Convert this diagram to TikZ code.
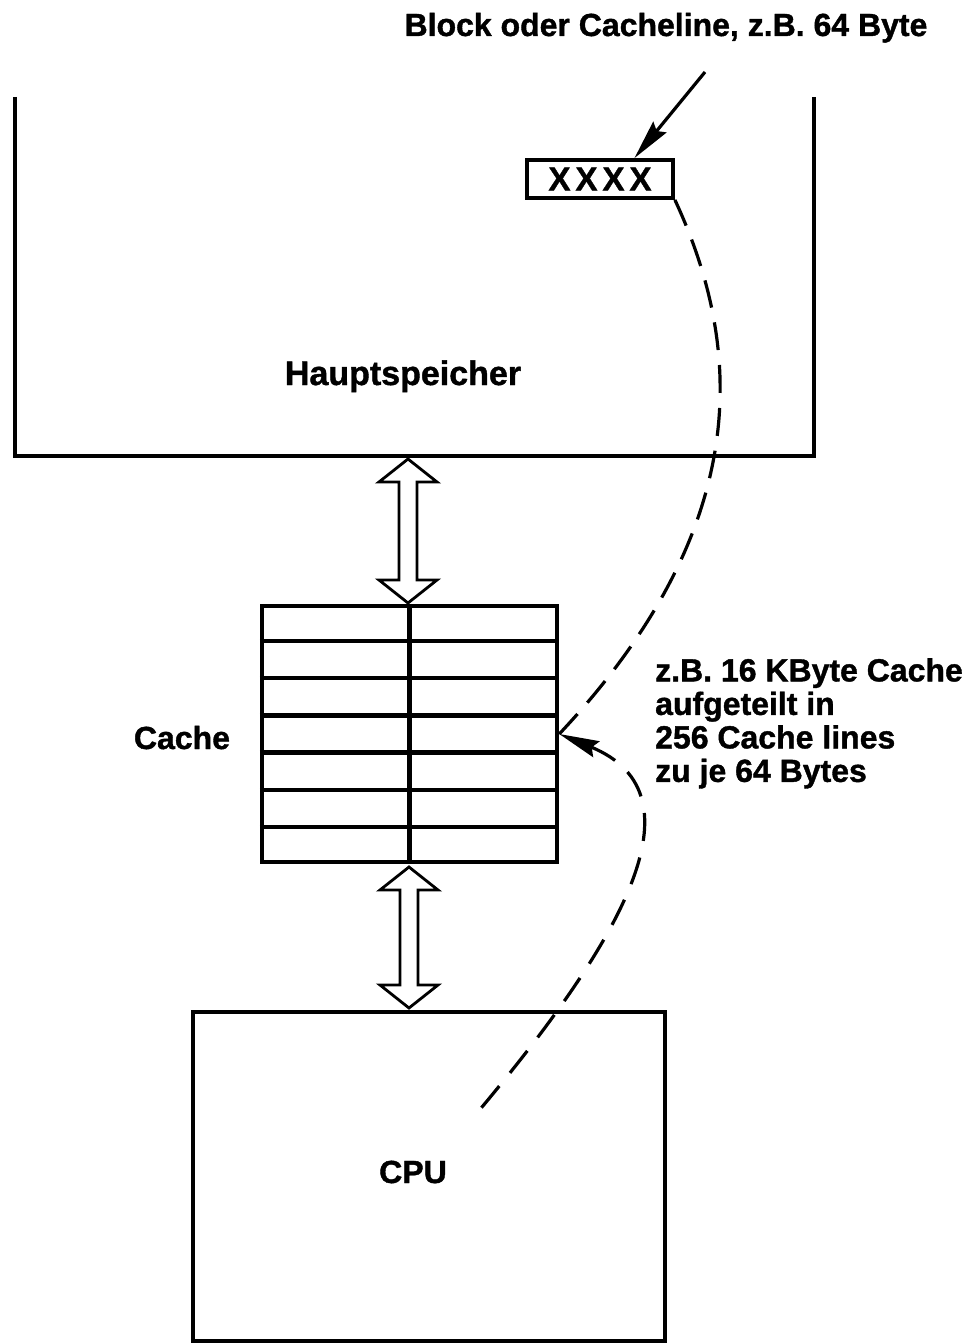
\documentclass[tikz,border=0pt]{standalone}
\usepackage{fontspec}
\setmainfont{Liberation Sans}[BoldFeatures={FakeBold=1.2}]
\usetikzlibrary{arrows.meta,calc}
\tikzset{hd/.tip={Stealth[length=40pt,width=17pt,inset=5pt]}}
\begin{document}
\begin{tikzpicture}[x=1pt,y=-1pt,
  wall/.style={line width=3.8pt},
  lbl/.style={font=\bfseries\fontsize{32}{33.5}\selectfont, inner sep=0pt},
  fat/.style={line width=2.8pt, fill=white, line join=miter},
  dsh/.style={line width=3.2pt, dash pattern=on 28pt off 15pt},
  ptr/.style={line width=3.2pt}
]
\useasboundingbox (0,0) rectangle (974,1343);

% main memory (open at the top)
\coordinate (memTL) at (15,97);
\coordinate (memBL) at (15,456);
\coordinate (memBR) at (814,456);
\coordinate (memTR) at (814,97);
\draw[wall, line join=miter] (memTL) -- (memBL) -- (memBR) -- (memTR);
\node[lbl, font=\bfseries\fontsize{34}{36}\selectfont, anchor=base] (haupt) at (403,385) {Hauptspeicher};

% block / cache line
\node[draw, line width=3.8pt, minimum width=146, minimum height=38, inner sep=0pt,
      font=\bfseries\fontsize{33}{33}\selectfont] (blk) at (600,179) {X\hspace{5pt}X\hspace{5pt}X\hspace{5pt}X};
\node[lbl, anchor=base] (blklbl) at (666,36) {Block oder Cacheline, z.B. 64 Byte};
\coordinate (ptrstart) at (705,72);
\coordinate (ptrend) at ($(blk.north west)!0.73!(blk.north east)$);
\draw[ptr, -{hd}] (ptrstart) -- (ptrend);

% cache
\node[draw, line width=4.5pt, minimum width=295, minimum height=256, inner sep=0pt] (cache) at (409.5,734) {};
\foreach \i in {1,...,6}
  \draw[line width=4.5pt] ($(cache.north west)!{\i/7}!(cache.south west)$) -- ($(cache.north east)!{\i/7}!(cache.south east)$);
\draw[line width=4.5pt] (cache.north) -- (cache.south);
\node[lbl, anchor=base] (cachelbl) at (182,749) {Cache};
\node[lbl, anchor=north west, align=left] (cachetxt) at (655,658)
  {z.B. 16 KByte Cache\\aufgeteilt in\\256 Cache lines\\zu je 64 Bytes};

% CPU
\node[draw, line width=3.8pt, minimum width=472, minimum height=329, inner sep=0pt] (cpu) at (429,1176.5) {};
\node[lbl, anchor=base] (cpulbl) at (413,1183) {CPU};

% fat double arrows
\newcommand\fatarrow[2]{%
  \draw[fat] (#1) -- ++(29,23) -- ++(-20,0) -- ($(#2)+(9,-23)$) -- ++(20,0) -- (#2)
    -- ++(-29,-23) -- ++(20,0) -- ($(#1)+(-9,23)$) -- ++(-20,0) -- cycle;}
\coordinate (u1) at (408,459);
\coordinate (d1) at (408,603);
\coordinate (u2) at (409,867);
\coordinate (d2) at (409,1008);
\fatarrow{u1}{d1}
\fatarrow{u2}{d2}

% dashed connections
\draw[dsh] (blk.south east) .. controls (740,340) and (760,520) .. (cache.east);
\coordinate (cpuA) at (477,1113);
\draw[dsh, dash pattern=on 28pt off 17pt, {hd}-] (cache.east) .. controls (708,795) and (618,945) .. (cpuA);
\end{tikzpicture}
\end{document}
